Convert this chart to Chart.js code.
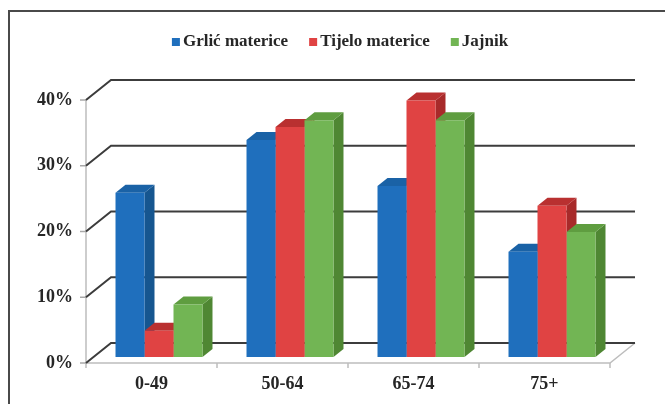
<!DOCTYPE html>
<html>
<head>
<meta charset="utf-8">
<script src="https://cdn.jsdelivr.net/npm/chart.js@4/dist/chart.umd.min.js"></script>
<style>
  html, body { margin: 0; padding: 0; background: #ffffff; }
  #wrap { position: relative; width: 665px; height: 404px; }
</style>
</head>
<body>
<div id="wrap"><canvas id="c" width="665" height="404"></canvas></div>
<script>
// Age groups and share of cases (%) per cancer site
const categories = ['0-49', '50-64', '65-74', '75+'];
const grlicMaterice = [25, 33, 26, 16];
const tijeloMaterice = [4, 35, 39, 23];
const jajnik = [8, 36, 36, 19];
const yTicks = [0, 10, 20, 30, 40];

const seriesNames = ['Grlić materice', 'Tijelo materice', 'Jajnik'];
const frontColors = ['#1f6fbd', '#e04343', '#72b554'];
const sideColors  = ['#165690', '#a82a2a', '#4f8733'];
const topColors   = ['#1a62a6', '#b93030', '#5f9d40'];

// 3D projection offsets (pixels) relative to the plane holding the bars' front faces
const FRONT = { dx: -7.5, dy: 6 };   // front wall of the floor
const BACK  = { dx: 17.5, dy: -14 }; // back wall with gridlines
const DEPTH = { dx: 10, dy: -8 };    // bar depth

const AXIS_FONT = 'bold 18px "Liberation Serif", "Times New Roman", serif';
const LEGEND_FONT = 'bold 17px "Liberation Serif", "Times New Roman", serif';
const TEXT_COLOR = '#262626';

const box3d = {
  id: 'box3d',
  beforeDatasetsDraw(chart) {
    const ctx = chart.ctx;
    const x = chart.scales.x, y = chart.scales.y;
    const L = chart.chartArea.left, R = chart.chartArea.right;
    ctx.save();

    // outer frame
    ctx.strokeStyle = '#4a4a4a';
    ctx.lineWidth = 2;
    ctx.beginPath();
    ctx.moveTo(9, 404); ctx.lineTo(9, 11); ctx.lineTo(665, 11);
    ctx.stroke();

    // floor
    const y0 = y.getPixelForValue(0);
    ctx.strokeStyle = '#bdbdbd';
    ctx.lineWidth = 1.5;
    ctx.beginPath();
    ctx.moveTo(L + FRONT.dx, y0 + FRONT.dy);
    ctx.lineTo(R + FRONT.dx, y0 + FRONT.dy);
    ctx.lineTo(R + BACK.dx, y0 + BACK.dy);
    ctx.stroke();
    // category tick marks on the floor edge
    for (let i = 0; i <= categories.length; i++) {
      const px = L + FRONT.dx + (R - L) * i / categories.length;
      ctx.beginPath();
      ctx.moveTo(px, y0 + FRONT.dy);
      ctx.lineTo(px, y0 + FRONT.dy + 5);
      ctx.stroke();
    }

    // left value axis
    const yTop = y.getPixelForValue(yTicks[yTicks.length - 1]);
    ctx.beginPath();
    ctx.moveTo(L + FRONT.dx, yTop + FRONT.dy);
    ctx.lineTo(L + FRONT.dx, y0 + FRONT.dy);
    ctx.stroke();

    // gridlines on side and back walls
    yTicks.forEach(v => {
      const py = y.getPixelForValue(v);
      ctx.strokeStyle = '#a8a8a8';
      ctx.lineWidth = 1.5;
      ctx.beginPath();
      ctx.moveTo(L + FRONT.dx - 6, py + FRONT.dy);
      ctx.lineTo(L + FRONT.dx, py + FRONT.dy);
      ctx.stroke();
      ctx.strokeStyle = '#3c3c3c';
      ctx.lineWidth = 2;
      ctx.beginPath();
      ctx.moveTo(L + FRONT.dx, py + FRONT.dy);
      ctx.lineTo(L + BACK.dx, py + BACK.dy);
      ctx.lineTo(R + BACK.dx, py + BACK.dy);
      ctx.stroke();
      // value labels
      ctx.fillStyle = TEXT_COLOR;
      ctx.font = AXIS_FONT;
      ctx.textAlign = 'right';
      ctx.textBaseline = 'middle';
      ctx.fillText(v + '%', L + FRONT.dx - 13, py + FRONT.dy);
    });

    // category labels
    ctx.fillStyle = TEXT_COLOR;
    ctx.font = AXIS_FONT;
    ctx.textAlign = 'center';
    ctx.textBaseline = 'middle';
    categories.forEach((c, i) => {
      ctx.fillText(c, x.getPixelForValue(i) + FRONT.dx, y0 + FRONT.dy + 21);
    });

    // bar sides and tops, left to right so neighbours overlap correctly
    const metas = chart.data.datasets.map((d, i) => chart.getDatasetMeta(i));
    for (let j = 0; j < categories.length; j++) {
      metas.forEach((meta, di) => {
        const bar = meta.data[j];
        const p = bar.getProps(['x', 'y', 'base', 'width'], true);
        const l = p.x - p.width / 2, r = p.x + p.width / 2;
        const t = p.y, b = p.base;
        ctx.fillStyle = sideColors[di];
        ctx.beginPath();
        ctx.moveTo(r, t); ctx.lineTo(r + DEPTH.dx, t + DEPTH.dy);
        ctx.lineTo(r + DEPTH.dx, b + DEPTH.dy); ctx.lineTo(r, b);
        ctx.closePath(); ctx.fill();
        ctx.fillStyle = topColors[di];
        ctx.beginPath();
        ctx.moveTo(l, t); ctx.lineTo(r, t);
        ctx.lineTo(r + DEPTH.dx, t + DEPTH.dy); ctx.lineTo(l + DEPTH.dx, t + DEPTH.dy);
        ctx.closePath(); ctx.fill();
      });
    }

    // legend
    ctx.font = LEGEND_FONT;
    ctx.textAlign = 'left';
    ctx.textBaseline = 'middle';
    const gap = 21, sq = 8, pad = 3;
    const widths = seriesNames.map(n => ctx.measureText(n).width + sq + pad);
    const total = widths.reduce((a, b) => a + b, 0) + gap * (widths.length - 1);
    let lx = 340 - total / 2;
    seriesNames.forEach((n, i) => {
      ctx.fillStyle = frontColors[i];
      ctx.fillRect(lx, 38, sq, sq);
      ctx.fillStyle = TEXT_COLOR;
      ctx.fillText(n, lx + sq + pad, 42);
      lx += widths[i] + gap;
    });

    ctx.restore();
  }
};

new Chart(document.getElementById('c'), {
  type: 'bar',
  data: {
    labels: categories,
    datasets: [
      { label: seriesNames[0], data: grlicMaterice, backgroundColor: frontColors[0] },
      { label: seriesNames[1], data: tijeloMaterice, backgroundColor: frontColors[1] },
      { label: seriesNames[2], data: jajnik, backgroundColor: frontColors[2] }
    ]
  },
  options: {
    responsive: false,
    animation: false,
    layout: { padding: { left: 93.5, right: 47.5, top: 94, bottom: 47 } },
    datasets: { bar: { categoryPercentage: 0.664, barPercentage: 1, borderWidth: 0 } },
    scales: {
      x: { display: false },
      y: { display: false, min: 0, max: 40 }
    },
    plugins: { legend: { display: false }, tooltip: { enabled: false } }
  },
  plugins: [box3d]
});
</script>
</body>
</html>
